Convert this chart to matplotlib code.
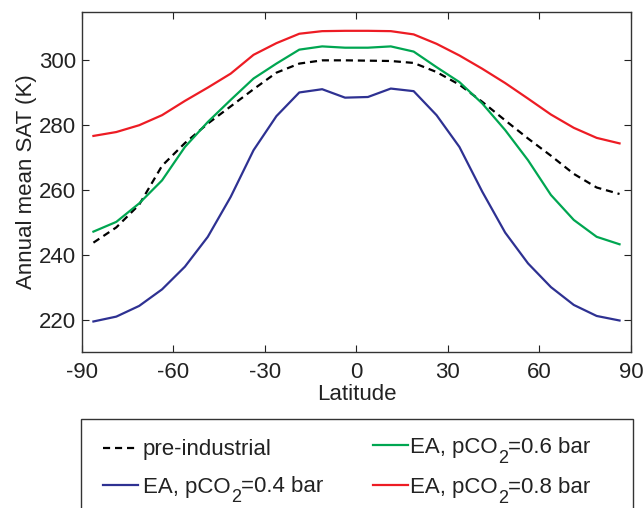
import matplotlib
matplotlib.use("Agg")
import matplotlib.pyplot as plt
import matplotlib.transforms as mtrans
from matplotlib.patches import Rectangle
import numpy as np

plt.rcParams['font.family'] = ['Liberation Sans', 'DejaVu Sans']
plt.rcParams['axes.unicode_minus'] = False

# latitude grid (deg)
lat = [-86.25, -78.75, -71.25, -63.75, -56.25, -48.75, -41.25, -33.75,
       -26.25, -18.75, -11.25, -3.75, 3.75, 11.25, 18.75, 26.25,
       33.75, 41.25, 48.75, 56.25, 63.75, 71.25, 78.75, 86.25]

# annual mean SAT (K)
sat_pi = [243.8, 248.5, 255.5, 267.5, 274.5, 280.5, 285.8, 291.1,
          296.2, 299.0, 300.0, 300.0, 299.9, 299.8, 299.2, 296.4,
          292.5, 287.2, 281.5, 275.9, 270.6, 265.0, 260.8, 258.8]
sat_04 = [219.5, 221.0, 224.3, 229.4, 236.4, 245.6, 257.9, 272.3,
          282.8, 290.1, 291.1, 288.5, 288.7, 291.3, 290.5, 283.1,
          273.3, 259.5, 246.9, 237.4, 230.1, 224.6, 221.2, 219.8]
sat_06 = [247.2, 250.2, 255.9, 263.0, 273.3, 281.0, 287.8, 294.4,
          299.0, 303.3, 304.3, 303.9, 303.9, 304.3, 302.7, 297.9,
          293.3, 286.7, 278.5, 269.2, 258.5, 250.8, 245.6, 243.3]
sat_08 = [276.7, 277.9, 280.0, 283.1, 287.5, 291.6, 295.9, 301.7,
          305.3, 308.2, 309.0, 309.1, 309.1, 309.0, 308.0, 305.1,
          301.5, 297.4, 293.0, 288.2, 283.3, 279.2, 276.1, 274.4]

xticks = [-90, -60, -30, 0, 30, 60, 90]
yticks = [220, 240, 260, 280, 300]

W, H = 643, 508
fig = plt.figure(figsize=(W / 100, H / 100), dpi=100)
ax = fig.add_axes([0.1275, 0.3065, 0.8538, 0.6705])

lw = 1.6
l_pi, = ax.plot(lat, sat_pi, color='black', ls=(0, (3.2, 2.2)), lw=lw)
l_04, = ax.plot(lat, sat_04, color='#2e3192', lw=lw)
l_06, = ax.plot(lat, sat_06, color='#00a651', lw=lw)
l_08, = ax.plot(lat, sat_08, color='#ed1c24', lw=lw)

ax.set_xlim(-90, 90)
ax.set_ylim(210, 315)
ax.set_xticks(xticks)
ax.set_yticks(yticks)
ax.tick_params(direction='in', top=True, right=True, length=5, width=0.8,
               labelsize=16, colors='#222222')
ax.tick_params(axis='x', pad=7)
ax.tick_params(axis='y', pad=4)
for s in ax.spines.values():
    s.set_linewidth(1.0)
    s.set_color('#333333')

ax.set_xlabel('Latitude', fontsize=16, color='#222222')
ax.set_ylabel('Annual mean SAT (K)', fontsize=16, color='#222222')
ax.xaxis.set_label_coords(0.5, -0.092)
ax.yaxis.set_label_coords(-0.082, 0.5)

# legend box, cut off at the bottom of the figure
fig.patches.append(Rectangle((81 / W, -0.05), (633 - 81) / W, (508 - 419) / H + 0.05,
                             transform=fig.transFigure, fill=False,
                             edgecolor='#333333', lw=1.0, clip_on=False))

# one legend per entry; pCO2 subscript drawn big and low as in the original
entries = [(l_pi, 'pre-industrial', None, 103, 450, 0.22),
           (l_04, 'EA, pCO', '=0.4 bar', 103, 487, 0.22),
           (l_06, 'EA, pCO', '=0.6 bar', 373, 447.5, 0.1),
           (l_08, 'EA, pCO', '=0.8 bar', 373, 487.5, 0.1)]
legs = []
for h, lab, tail, x0, y0, pad in entries:
    leg = fig.legend(handles=[h], labels=[lab], frameon=False, loc='center left',
                     bbox_to_anchor=(x0 / W, 1 - y0 / H), borderpad=0,
                     borderaxespad=0, fontsize=16, handlelength=1.58,
                     handletextpad=pad, labelcolor='#222222')
    legs.append((leg, tail))

fig.canvas.draw()
rend = fig.canvas.get_renderer()
pix = mtrans.IdentityTransform()
for leg, tail in legs:
    if tail is None:
        continue
    t = leg.get_texts()[0]
    bb = t.get_window_extent(rend)
    base = t.get_transform().transform(t.get_position())[1]
    sub = fig.text(bb.x1, base - 10, '2', fontsize=13, color='#222222',
                   va='baseline', transform=pix)
    sb = sub.get_window_extent(rend)
    fig.text(sb.x1, base, tail, fontsize=16, color='#222222',
             va='baseline', transform=pix)

fig.savefig('out.png', dpi=100)
